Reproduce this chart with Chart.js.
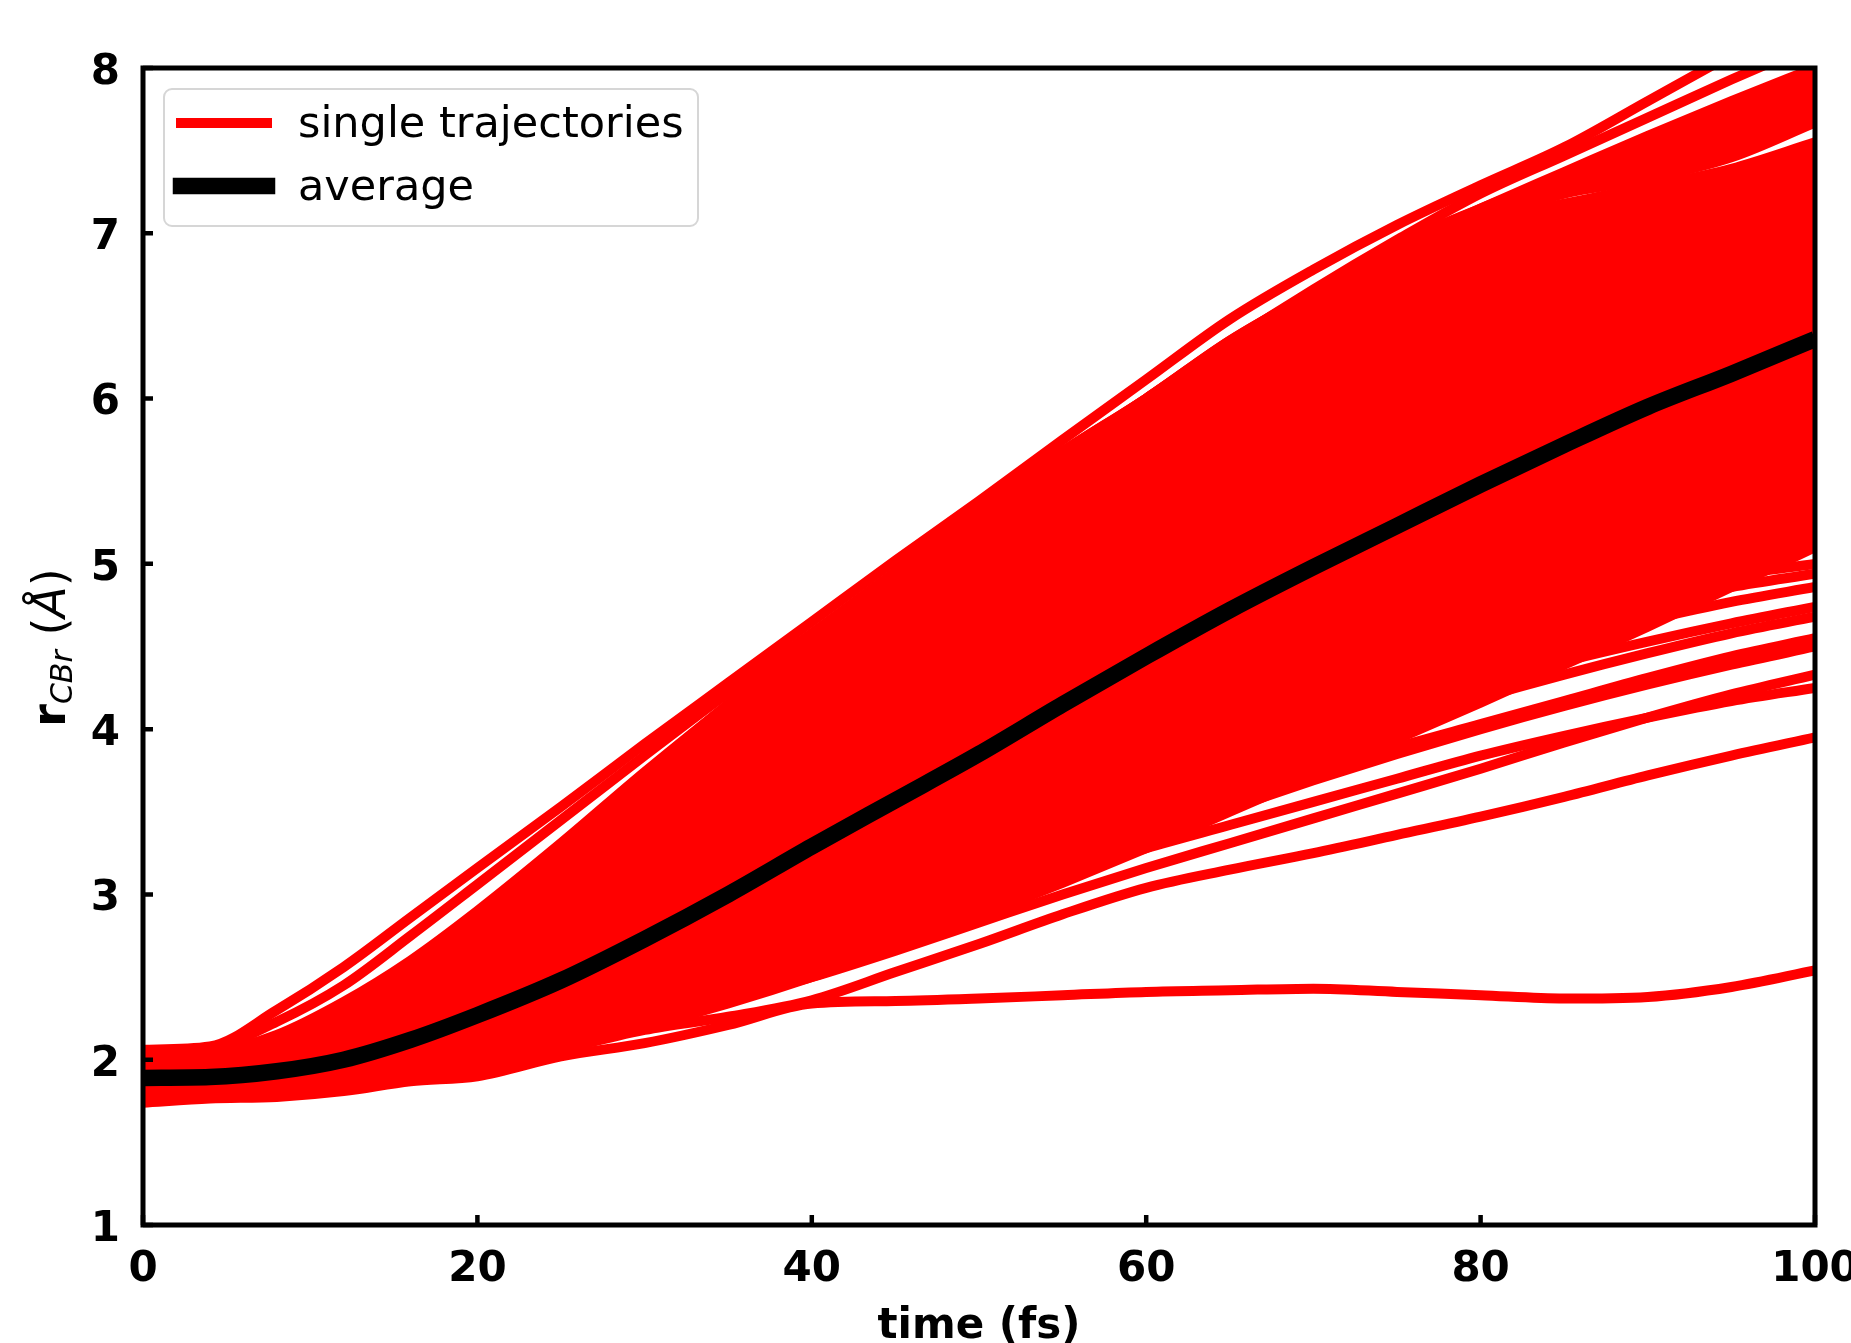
<!DOCTYPE html>
<html>
<head>
<meta charset="utf-8">
<title>C-Br distance after photodissociation</title>
<script src="https://cdn.jsdelivr.net/npm/chart.js@4.4.1/dist/chart.umd.min.js"></script>
<style>
  html, body { margin: 0; padding: 0; background: #ffffff; }
  #wrap { width: 1851px; height: 1343px; position: relative; }
  canvas { display: block; }
</style>
</head>
<body>
<div id="wrap"><canvas id="chart" width="1851" height="1343"></canvas></div>
<script>
// Sampling times (fs) shared by every curve
const timeFs = [0, 4, 8, 12, 16, 20, 25, 30, 35, 40, 45, 50, 55, 60, 65, 70, 75, 80, 85, 90, 95, 100];

// Axis ticks
const xTickValues = [0, 20, 40, 60, 80, 100];
const yTickValues = [1, 2, 3, 4, 5, 6, 7, 8];

// Ensemble average r_CBr (Å)
const averageCBr = [1.89, 1.895, 1.93, 2.00, 2.12, 2.27, 2.48, 2.73, 3.00, 3.29, 3.57, 3.85, 4.15, 4.44, 4.72, 4.98, 5.23, 5.48, 5.72, 5.95, 6.15, 6.36];

// Fastest trajectories (upper edge of the bundle)
const trajTop1 = [2.06, 2.08, 2.30, 2.56, 2.86, 3.16, 3.53, 3.91, 4.28, 4.65, 5.02, 5.38, 5.75, 6.115, 6.48, 6.78, 7.05, 7.29, 7.52, 7.80, 8.08, 8.35];
const trajTop2 = [2.05, 2.07, 2.23, 2.45, 2.75, 3.06, 3.45, 3.84, 4.22, 4.58, 4.95, 5.30, 5.66, 6.00, 6.34, 6.66, 6.96, 7.24, 7.47, 7.70, 7.93, 8.15];

// Upper and lower members of the dense core of the bundle
const trajCoreUpper = [2.02, 2.04, 2.14, 2.33, 2.58, 2.88, 3.30, 3.73, 4.15, 4.55, 4.95, 5.33, 5.68, 6.00, 6.35, 6.64, 6.90, 7.08, 7.18, 7.28, 7.39, 7.55];
const trajCoreLower = [1.80, 1.81, 1.83, 1.86, 1.91, 1.98, 2.08, 2.20, 2.34, 2.50, 2.68, 2.87, 3.07, 3.28, 3.50, 3.72, 3.94, 4.16, 4.39, 4.62, 4.86, 5.10];

// Core trajectories that separate near the top of the frame
const trajLateLow = [2.01, 2.03, 2.13, 2.32, 2.57, 2.87, 3.29, 3.72, 4.13, 4.53, 4.92, 5.30, 5.64, 5.97, 6.31, 6.61, 6.88, 7.08, 7.24, 7.33, 7.46, 7.67];
const trajLateHigh = [2.02, 2.04, 2.15, 2.35, 2.60, 2.90, 3.31, 3.74, 4.15, 4.55, 4.95, 5.33, 5.68, 6.00, 6.35, 6.64, 6.92, 7.15, 7.37, 7.59, 7.80, 8.00];
const trajLateMid1 = [2.00, 2.02, 2.12, 2.31, 2.56, 2.86, 3.28, 3.71, 4.12, 4.52, 4.92, 5.30, 5.65, 5.98, 6.32, 6.62, 6.92, 7.14, 7.33, 7.51, 7.68, 7.84];
const trajLateMid2 = [2.01, 2.03, 2.14, 2.33, 2.58, 2.88, 3.30, 3.73, 4.14, 4.54, 4.94, 5.32, 5.67, 5.99, 6.33, 6.63, 6.93, 7.15, 7.35, 7.55, 7.74, 7.92];

// Slower trajectories that leave the core towards the end
const trajFan1 = [1.83, 1.84, 1.86, 1.90, 1.96, 2.03, 2.15, 2.29, 2.45, 2.62, 2.80, 2.98, 3.16, 3.34, 3.52, 3.69, 3.85, 4.00, 4.14, 4.27, 4.39, 4.50];
const trajFan2 = [1.86, 1.87, 1.89, 1.93, 2.00, 2.08, 2.21, 2.36, 2.53, 2.71, 2.89, 3.07, 3.25, 3.42, 3.58, 3.74, 3.89, 4.03, 4.17, 4.31, 4.44, 4.55];
const trajFan3 = [1.84, 1.85, 1.88, 1.93, 2.01, 2.10, 2.24, 2.40, 2.58, 2.77, 2.96, 3.16, 3.35, 3.53, 3.71, 3.88, 4.04, 4.19, 4.33, 4.46, 4.58, 4.68];
const trajFan4 = [1.88, 1.89, 1.92, 1.97, 2.05, 2.15, 2.30, 2.47, 2.66, 2.85, 3.05, 3.25, 3.44, 3.62, 3.79, 3.96, 4.12, 4.27, 4.41, 4.53, 4.64, 4.74];
const trajFan5 = [1.87, 1.88, 1.91, 1.97, 2.06, 2.17, 2.34, 2.53, 2.73, 2.94, 3.15, 3.36, 3.56, 3.75, 3.93, 4.10, 4.26, 4.41, 4.54, 4.66, 4.77, 4.86];
const trajFan6 = [1.90, 1.91, 1.94, 2.00, 2.09, 2.21, 2.39, 2.59, 2.80, 3.02, 3.24, 3.46, 3.67, 3.87, 4.05, 4.22, 4.38, 4.52, 4.65, 4.76, 4.86, 4.94];
const trajFan7 = [1.89, 1.90, 1.94, 2.01, 2.11, 2.24, 2.43, 2.64, 2.86, 3.09, 3.32, 3.55, 3.76, 3.96, 4.15, 4.32, 4.48, 4.62, 4.74, 4.84, 4.93, 5.00];

// Slowest trajectories (lower edge of the bundle)
const trajSlow1 = [1.74, 1.765, 1.775, 1.81, 1.87, 1.90, 2.02, 2.10, 2.21, 2.34, 2.355, 2.37, 2.39, 2.41, 2.42, 2.43, 2.41, 2.39, 2.37, 2.38, 2.44, 2.54];
const trajSlow2 = [1.78, 1.80, 1.81, 1.83, 1.88, 1.93, 2.06, 2.18, 2.26, 2.36, 2.53, 2.70, 2.88, 3.04, 3.15, 3.25, 3.36, 3.47, 3.59, 3.72, 3.84, 3.95];
const trajSlow3 = [1.82, 1.83, 1.85, 1.88, 1.93, 1.99, 2.10, 2.22, 2.36, 2.50, 2.66, 2.83, 3.00, 3.16, 3.31, 3.46, 3.61, 3.76, 3.92, 4.07, 4.21, 4.33];
const trajSlow4 = [1.85, 1.86, 1.88, 1.92, 1.98, 2.05, 2.17, 2.31, 2.47, 2.63, 2.80, 2.97, 3.13, 3.28, 3.42, 3.56, 3.70, 3.84, 3.96, 4.07, 4.17, 4.25];

const singleTrajectories = [
  trajTop1, trajTop2,
  trajLateMid1, trajLateMid2,
  trajFan1, trajFan2, trajFan3, trajFan4, trajFan5, trajFan6, trajFan7,
  trajSlow1, trajSlow2, trajSlow3, trajSlow4
];

const RED = '#ff0000';
const BLACK = '#000000';
const FONT = "'DejaVu Sans', sans-serif";
const RED_WIDTH = 10;
const AVG_WIDTH = 16.5;

const toPoints = values => values.map((v, i) => ({ x: timeFs[i], y: v }));

const redLine = (values, extra) => Object.assign({
  data: toPoints(values),
  borderColor: RED,
  backgroundColor: RED,
  borderWidth: RED_WIDTH,
  fill: false,
  clip: 0,
  order: 1
}, extra || {});

const datasets = [
  redLine(trajCoreLower),                  // index 0
  redLine(trajCoreUpper, { fill: 0 }),     // core shaded down to index 0
  redLine(trajLateLow),                    // index 2
  redLine(trajLateHigh, { fill: 2 }),      // late upper band shaded down to index 2
  ...singleTrajectories.map(v => redLine(v)),
  {
    data: toPoints(averageCBr),
    borderColor: BLACK,
    borderWidth: AVG_WIDTH,
    fill: false,
    clip: 0,
    order: 0
  }
];

// Frame on all four sides plus inward tick marks on the bottom and left axes
const frameAndTicks = {
  id: 'frameAndTicks',
  afterDatasetsDraw(chart) {
    const { ctx, chartArea: a, scales: { x, y } } = chart;
    ctx.save();
    ctx.strokeStyle = BLACK;
    ctx.lineCap = 'butt';
    ctx.lineWidth = 4.5;
    ctx.beginPath();
    xTickValues.forEach(v => {
      const px = x.getPixelForValue(v);
      ctx.moveTo(px, a.bottom);
      ctx.lineTo(px, a.bottom - 10);
    });
    yTickValues.forEach(v => {
      const py = y.getPixelForValue(v);
      ctx.moveTo(a.left, py);
      ctx.lineTo(a.left + 10, py);
    });
    ctx.stroke();
    ctx.lineWidth = 5;
    ctx.lineJoin = 'miter';
    ctx.strokeRect(a.left, a.top, a.right - a.left, a.bottom - a.top);
    ctx.restore();
  }
};

// Legend box in the upper left corner of the plot
const legendBox = {
  id: 'legendBox',
  afterDraw(chart) {
    const { ctx, chartArea: a } = chart;
    const x0 = a.left + 21, y0 = a.top + 21, w = 534, h = 137;
    ctx.save();
    ctx.beginPath();
    ctx.roundRect(x0, y0, w, h, 8);
    ctx.fillStyle = 'rgba(255,255,255,0.8)';
    ctx.fill();
    ctx.strokeStyle = '#d6d6d6';
    ctx.lineWidth = 2;
    ctx.stroke();

    const entries = [
      { text: 'single trajectories', color: RED, width: RED_WIDTH, cy: y0 + 34, base: y0 + 48 },
      { text: 'average', color: BLACK, width: AVG_WIDTH, cy: y0 + 97, base: y0 + 111 }
    ];
    entries.forEach(e => {
      ctx.beginPath();
      ctx.strokeStyle = e.color;
      ctx.lineWidth = e.width;
      ctx.lineCap = 'square';
      ctx.moveTo(x0 + 17, e.cy);
      ctx.lineTo(x0 + 103, e.cy);
      ctx.stroke();
      ctx.fillStyle = BLACK;
      ctx.font = '43px ' + FONT;
      ctx.textBaseline = 'alphabetic';
      ctx.textAlign = 'left';
      ctx.fillText(e.text, x0 + 134, e.base);
    });
    ctx.restore();
  }
};

// Rotated y-axis title with subscript
const yAxisTitle = {
  id: 'yAxisTitle',
  afterDraw(chart) {
    const { ctx, chartArea: a } = chart;
    const parts = [
      { t: 'r', font: 'bold 46px ' + FONT, dy: 0 },
      { t: 'CBr', font: 'italic 30px ' + FONT, dy: 7 },
      { t: ' (', font: '46px ' + FONT, dy: 0 },
      { t: 'Å', font: 'italic 46px ' + FONT, dy: 0 },
      { t: ')', font: '46px ' + FONT, dy: 0 }
    ];
    ctx.save();
    let total = 0;
    parts.forEach(p => { ctx.font = p.font; p.w = ctx.measureText(p.t).width; total += p.w; });
    ctx.translate(a.left - 78, (a.top + a.bottom) / 2 + 1);
    ctx.rotate(-Math.PI / 2);
    ctx.fillStyle = BLACK;
    ctx.textBaseline = 'alphabetic';
    ctx.textAlign = 'left';
    let cx = -total / 2;
    parts.forEach(p => { ctx.font = p.font; ctx.fillText(p.t, cx, p.dy); cx += p.w; });
    ctx.restore();
  }
};

new Chart(document.getElementById('chart'), {
  type: 'line',
  data: { datasets },
  options: {
    responsive: false,
    animation: false,
    devicePixelRatio: 1,
    layout: { padding: { left: 0, right: 36, top: 68, bottom: 0 } },
    elements: {
      point: { radius: 0, hoverRadius: 0 },
      line: { cubicInterpolationMode: 'monotone', borderCapStyle: 'butt', borderJoinStyle: 'round' }
    },
    plugins: {
      legend: { display: false },
      tooltip: { enabled: false },
      filler: { propagate: false }
    },
    events: [],
    scales: {
      x: {
        type: 'linear',
        min: 0,
        max: 100,
        afterBuildTicks: s => { s.ticks = xTickValues.map(v => ({ value: v })); },
        afterFit: s => { s.height = 118; s.paddingLeft = 0; s.paddingRight = 0; },
        grid: { display: false, drawTicks: false },
        border: { display: false },
        ticks: {
          color: BLACK,
          padding: 20,
          maxRotation: 0,
          autoSkip: false,
          font: { family: FONT, weight: 'bold', size: 42 }
        },
        title: {
          display: true,
          text: 'time (fs)',
          color: BLACK,
          font: { family: FONT, weight: 'bold', size: 42 },
          padding: { top: 0, bottom: -9 }
        }
      },
      y: {
        type: 'linear',
        min: 1,
        max: 8,
        afterBuildTicks: s => { s.ticks = yTickValues.map(v => ({ value: v })); },
        afterFit: s => { s.width = 143; s.paddingTop = 0; s.paddingBottom = 0; },
        grid: { display: false, drawTicks: false },
        border: { display: false },
        ticks: {
          color: BLACK,
          padding: 23,
          labelOffset: 5,
          autoSkip: false,
          font: { family: FONT, weight: 'bold', size: 42 }
        }
      }
    }
  },
  plugins: [frameAndTicks, legendBox, yAxisTitle]
});
</script>
</body>
</html>
